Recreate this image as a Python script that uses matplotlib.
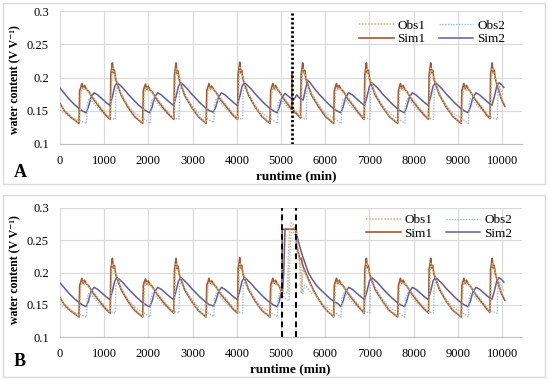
import numpy as np
import matplotlib
matplotlib.use('Agg')
import matplotlib.pyplot as plt
from matplotlib.patches import Rectangle

# ---- panel A: Sim1 / Obs1 (same sample times) ----
t_s1 = [0, 100, 250, 430, 445, 470, 495, 525, 555, 600, 640, 760, 900, 1040, 1135, 1150, 1170, 1185, 1205, 1230, 1260, 1300, 1380,
        1540, 1690, 1870, 1885, 1910, 1935, 1965, 1995, 2040, 2080, 2200, 2340, 2480, 2575, 2590, 2610, 2625, 2645, 2670, 2700, 2740, 2820,
        2980, 3130, 3305, 3320, 3345, 3370, 3400, 3430, 3475, 3515, 3640, 3780, 3920, 4015, 4030, 4050, 4065, 4085, 4110, 4140, 4180, 4260,
        4420, 4570, 4750, 4765, 4790, 4815, 4845, 4875, 4920, 4960, 5080, 5220, 5240, 5246, 5254, 5360, 5440, 5455, 5475, 5490, 5510, 5535, 5565, 5605, 5685,
        5860, 6010, 6190, 6205, 6230, 6255, 6285, 6315, 6360, 6400, 6520, 6660, 6800, 6880, 6895, 6915, 6930, 6950, 6975, 7005, 7045, 7125,
        7300, 7450, 7640, 7655, 7680, 7700, 7730, 7760, 7805, 7845, 7965, 8105, 8245, 8335, 8350, 8370, 8385, 8405, 8430, 8460, 8500, 8580,
        8740, 8890, 9075, 9090, 9115, 9135, 9165, 9195, 9240, 9280, 9400, 9540, 9660, 9725, 9740, 9760, 9775, 9795, 9820, 9850, 9890, 9980, 10060]
sim1 = [.161, .150, .140, .131, .180, .185, .191, .183, .188, .182, .180, .167, .155, .143, .137, .205, .214, .222, .207, .211, .197, .190, .174,
        .155, .141, .131, .180, .186, .190, .182, .187, .181, .179, .166, .154, .143, .137, .204, .215, .222, .206, .210, .196, .189, .173,
        .155, .141, .131, .181, .185, .191, .183, .187, .182, .179, .166, .155, .143, .137, .206, .214, .223, .207, .211, .197, .190, .174,
        .155, .141, .131, .180, .186, .191, .183, .188, .182, .179, .166, .154, .152, .207, .153, .145, .139, .205, .214, .222, .207, .211, .197, .190, .174,
        .155, .141, .131, .180, .186, .191, .183, .188, .182, .180, .167, .155, .143, .137, .205, .214, .222, .207, .211, .197, .190, .174,
        .155, .141, .131, .180, .186, .191, .183, .188, .182, .179, .166, .154, .143, .137, .205, .214, .222, .207, .211, .197, .190, .174,
        .155, .141, .131, .180, .186, .191, .183, .188, .182, .179, .166, .154, .143, .138, .205, .214, .222, .207, .211, .197, .188, .168, .157]
obs1 = [.160, .151, .141, .132, .138, .176, .184, .186, .181, .184, .178, .169, .157, .145, .138, .150, .200, .214, .212, .205, .200, .192, .176,
        .157, .143, .132, .139, .175, .183, .186, .180, .183, .177, .168, .156, .145, .138, .152, .199, .213, .211, .204, .199, .191, .175,
        .156, .142, .132, .140, .177, .184, .186, .181, .184, .178, .168, .157, .145, .138, .151, .201, .215, .212, .205, .200, .192, .176,
        .156, .142, .132, .139, .176, .184, .186, .181, .184, .178, .168, .156, .155, .155, .155, .147, .140, .150, .200, .214, .212, .205, .200, .192, .176,
        .157, .143, .132, .139, .176, .184, .186, .181, .184, .178, .169, .157, .145, .138, .150, .200, .214, .212, .205, .200, .192, .176,
        .156, .142, .132, .139, .176, .184, .186, .181, .184, .178, .168, .156, .145, .138, .151, .200, .214, .212, .205, .200, .192, .176,
        .156, .142, .132, .139, .176, .184, .186, .181, .184, .178, .168, .156, .145, .139, .151, .200, .214, .212, .205, .200, .190, .170, .160]

# ---- panel A: Sim2 ----
t_s2 = [0, 100, 200, 300, 400, 500, 590, 640, 700, 770, 850, 950, 1050, 1130, 1180, 1240, 1290, 1350,
        1440, 1540, 1640, 1740, 1840, 1940, 2030, 2080, 2140, 2210, 2290, 2390, 2490, 2570, 2620, 2680, 2730, 2790,
        2880, 2980, 3080, 3180, 3280, 3380, 3470, 3520, 3580, 3650, 3730, 3830, 3930, 4010, 4060, 4120, 4170, 4230,
        4320, 4420, 4520, 4620, 4720, 4820, 4910, 4960, 5020, 5090, 5180, 5280, 5355, 5420, 5500, 5550, 5605, 5660,
        5760, 5860, 5960, 6060, 6160, 6260, 6350, 6400, 6460, 6530, 6610, 6710, 6810, 6890, 6940, 7000, 7050, 7110,
        7200, 7300, 7400, 7500, 7600, 7700, 7790, 7840, 7900, 7970, 8050, 8150, 8250, 8330, 8380, 8440, 8490, 8550,
        8640, 8740, 8840, 8940, 9040, 9140, 9230, 9280, 9340, 9410, 9490, 9590, 9690, 9770, 9820, 9880, 9930, 9990, 10040]
sim2 = [.184, .176, .168, .161, .155, .150, .147, .155, .170, .177, .174, .168, .162, .158, .170, .187, .192, .189,
        .183, .175, .168, .161, .155, .150, .147, .155, .170, .177, .174, .168, .162, .158, .170, .187, .192, .189,
        .183, .175, .168, .161, .155, .150, .148, .155, .169, .177, .174, .168, .162, .158, .170, .187, .192, .189,
        .183, .175, .168, .161, .155, .150, .147, .155, .170, .176, .171, .166, .174, .169, .166, .182, .196, .192,
        .183, .175, .168, .161, .155, .150, .147, .155, .170, .177, .174, .168, .162, .158, .170, .187, .192, .189,
        .183, .175, .168, .161, .155, .150, .147, .155, .170, .177, .174, .168, .162, .158, .170, .187, .192, .189,
        .183, .175, .168, .161, .155, .150, .147, .155, .170, .177, .174, .168, .162, .158, .170, .187, .192, .189, .185]

# ---- panel A: Obs2 ----
t_o2 = [0, 150, 300, 450, 600, 615, 650, 700, 800, 900, 1000, 1100, 1200, 1250, 1265, 1300, 1350,
        1440, 1540, 1640, 1740, 1890, 2040, 2055, 2090, 2140, 2240, 2340, 2440, 2540, 2640, 2690, 2705, 2740, 2790,
        2880, 2980, 3080, 3180, 3330, 3480, 3495, 3530, 3580, 3680, 3780, 3880, 3980, 4080, 4130, 4145, 4180, 4230,
        4320, 4420, 4520, 4620, 4770, 4920, 4935, 4970, 5020, 5120, 5220, 5320, 5420, 5520, 5570, 5585, 5620, 5670,
        5760, 5860, 5960, 6060, 6210, 6360, 6375, 6410, 6460, 6560, 6660, 6760, 6860, 6960, 7010, 7025, 7060, 7110,
        7200, 7300, 7400, 7500, 7650, 7800, 7815, 7850, 7900, 8000, 8100, 8200, 8300, 8400, 8450, 8465, 8500, 8550,
        8640, 8740, 8840, 8940, 9090, 9240, 9255, 9290, 9340, 9440, 9540, 9640, 9740, 9840, 9890, 9905, 9940, 9990, 10040]
obs2 = [.151, .144, .139, .135, .131, .160, .168, .166, .158, .151, .145, .141, .138, .137, .180, .186, .180,
        .168, .158, .150, .144, .138, .131, .160, .168, .166, .158, .151, .145, .141, .138, .137, .180, .186, .180,
        .168, .158, .150, .144, .138, .132, .160, .168, .166, .158, .151, .145, .141, .138, .137, .180, .186, .180,
        .168, .158, .150, .144, .138, .131, .160, .168, .166, .158, .151, .146, .141, .138, .137, .180, .186, .180,
        .168, .158, .150, .144, .138, .131, .160, .168, .166, .158, .151, .145, .141, .138, .137, .180, .186, .180,
        .168, .158, .150, .144, .138, .131, .160, .168, .166, .158, .151, .145, .141, .138, .137, .180, .186, .180,
        .168, .158, .150, .144, .138, .131, .160, .168, .166, .158, .151, .145, .141, .138, .137, .180, .186, .178, .172]

# ---- panel B: the disturbed stretch around 5000-6300 min ----
b_t_s1 = [5020, 5030, 5100, 5150, 5170, 5190, 5230, 5270, 5310, 5335, 5350, 5390, 5430, 5460, 5480, 5500, 5580, 5650, 5730, 5810, 5900, 5960, 6050, 6150]
b_sim1 = [.168, .267, .267, .267, .267, .267, .267, .267, .267, .267, .243, .230, .221, .222, .214, .209, .196, .185, .173, .163, .153, .147, .140, .134]
b_obs1 = [.170, .169, .167, .170, .232, .262, .277, .276, .268, .262, .252, .235, .205, .168, .195, .205, .193, .183, .171, .162, .152, .146, .140, .134]
b_t_s2 = [5000, 5035, 5060, 5090, 5335, 5360, 5400, 5470, 5550, 5616, 5700, 5800, 5900, 5993, 6100, 6200, 6300]
b_sim2 = [.168, .170, .200, .267, .267, .257, .246, .229, .213, .200, .190, .180, .173, .167, .160, .155, .151]
b_t_o2 = [5020, 5120, 5180, 5200, 5230, 5300, 5340, 5400, 5470, 5490, 5530, 5600, 5680]
b_obs2 = [.166, .158, .156, .230, .262, .262, .250, .226, .196, .166, .180, .176, .168]

line_a = [5245]
lines_b = [5030, 5330]

x_ticks = list(range(0, 10001, 1000))
y_ticks = [0.1, 0.15, 0.2, 0.25, 0.3]
y_labels = ['0.1', '0.15', '0.2', '0.25', '0.3']

c_obs1 = '#D0B27A'
c_obs2 = '#9DB9E3'
c_sim1 = '#9C5A36'
c_sim2 = '#5E5E9E'


def splice(t, v, t0, t1, seg_t, seg_v):
    t = np.asarray(t, float)
    v = np.asarray(v, float)
    lo = t < t0
    hi = t > t1
    return (np.concatenate([t[lo], seg_t, t[hi]]),
            np.concatenate([v[lo], seg_v, v[hi]]))


plt.rcParams['font.family'] = ['Liberation Serif', 'DejaVu Serif']

fig = plt.figure(figsize=(5.5, 3.8), dpi=100)


def panel(rect, s1t, s1, o1t, o1, s2t, s2, o2t, o2, leg_anchor):
    ax = fig.add_axes(rect)
    ax.plot(s2t, s2, color=c_sim2, lw=1.1, zorder=3)
    ax.plot(o2t, o2, color=c_obs2, lw=1.0, ls=(0, (1, 1)), zorder=3)
    ax.plot(s1t, s1, color=c_sim1, lw=1.2, zorder=4)
    ax.plot(o1t, o1, color=c_obs1, lw=1.1, ls=(0, (1, 1)), zorder=5)
    ax.set_xlim(0, 10450)
    ax.set_ylim(0.1, 0.3)
    ax.set_xticks(x_ticks)
    ax.set_yticks(y_ticks)
    ax.set_yticklabels(y_labels)
    ax.grid(True, color='#D9D9D9', lw=0.8)
    ax.set_axisbelow(True)
    for s in ['top', 'right', 'left']:
        ax.spines[s].set_visible(False)
    ax.spines['bottom'].set_color('#BFBFBF')
    ax.tick_params(length=0, labelsize=9, pad=8)
    h = [plt.Line2D([], [], color=c_obs1, lw=1.1, ls=(0, (1, 1))),
         plt.Line2D([], [], color=c_sim1, lw=1.2),
         plt.Line2D([], [], color=c_obs2, lw=1.0, ls=(0, (1, 1))),
         plt.Line2D([], [], color=c_sim2, lw=1.1)]
    ax.legend(h, ['Obs1', 'Sim1', 'Obs2', 'Sim2'], ncol=2, loc='upper right',
              bbox_to_anchor=leg_anchor, frameon=False, fontsize=9.5,
              handlelength=2.6, handletextpad=0.3, columnspacing=1.0,
              labelspacing=0.1, borderaxespad=0)
    return ax


ax_a = panel([60 / 550, 1 - 144 / 380, 462 / 550, 133 / 380],
             t_s1, sim1, t_s1, obs1, t_s2, sim2, t_o2, obs2, (0.975, 0.975))
for x in line_a:
    ax_a.axvline(x, color='black', lw=2, ls=(0, (0.8, 0.8)), zorder=6)

bs1_t, bs1 = splice(t_s1, sim1, 5000, 6180, b_t_s1, b_sim1)
bo1_t, bo1 = splice(t_s1, obs1, 5000, 6180, b_t_s1, b_obs1)
bs2_t, bs2 = splice(t_s2, sim2, 4990, 6340, b_t_s2, b_sim2)
bo2_t, bo2 = splice(t_o2, obs2, 5000, 5700, b_t_o2, b_obs2)

ax_b = panel([60 / 550, 1 - 337 / 380, 462 / 550, 129 / 380],
             bs1_t, bs1, bo1_t, bo1, bs2_t, bs2, bo2_t, bo2, (0.99, 0.995))
for x in lines_b:
    ax_b.axvline(x, color='black', lw=1.4, ls=(0, (3, 2)), zorder=6)

# panel frames, labels
for y0, hgt in [(1 - 184 / 380, 181 / 380), (1 - 377 / 380, 182 / 380)]:
    fig.patches.append(Rectangle((3 / 550, y0), 542 / 550, hgt, transform=fig.transFigure,
                                 fill=False, ec='#D9D9D9', lw=1))

for yc in [1 - 80 / 380, 1 - 270 / 380]:
    fig.text(15 / 550, yc, 'water content (V V\u207b\u00b9)', rotation=90, ha='center', va='center',
             fontsize=8.5, fontweight='bold')
fig.text(296 / 550, 1 - 176 / 380, 'runtime (min)', ha='center', va='center', fontsize=9.5, fontweight='bold')
fig.text(290 / 550, 1 - 369 / 380, 'runtime (min)', ha='center', va='center', fontsize=9.5, fontweight='bold')
fig.text(20 / 550, 1 - 172 / 380, 'A', ha='center', va='center', fontsize=13, fontweight='bold')
fig.text(20 / 550, 1 - 362 / 380, 'B', ha='center', va='center', fontsize=13, fontweight='bold')

fig.savefig('out.png', dpi=100)
